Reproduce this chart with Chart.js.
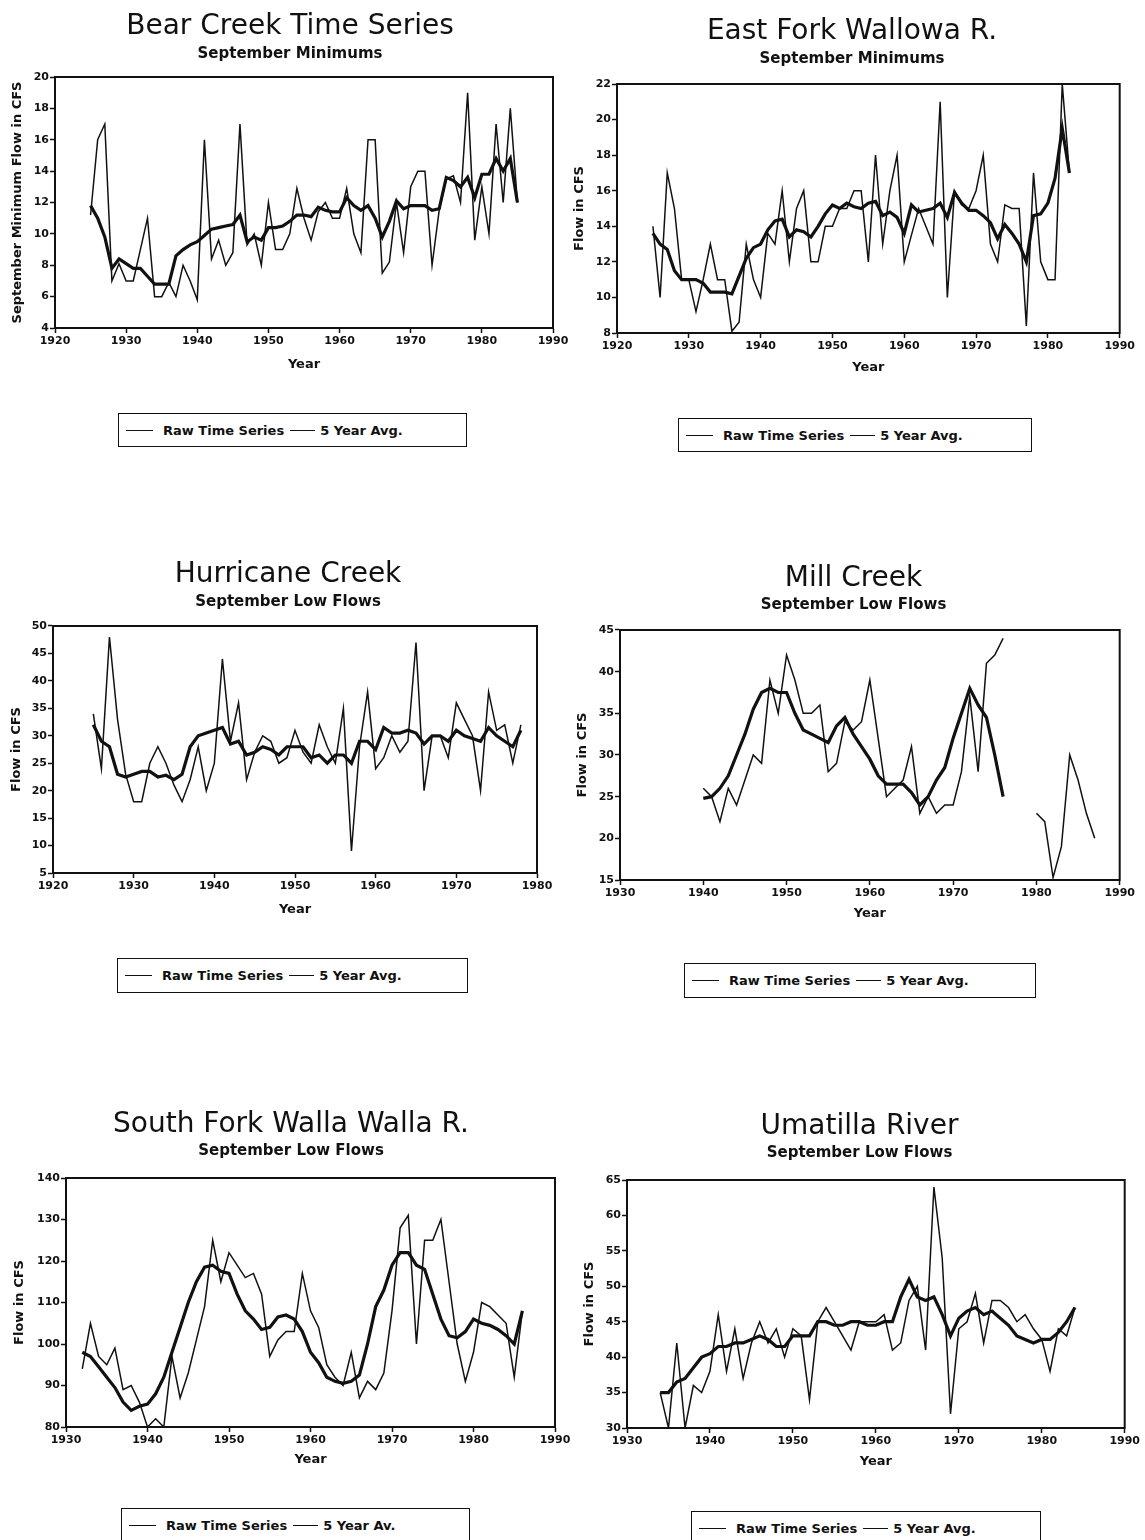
<!DOCTYPE html>
<html>
<head>
<meta charset="utf-8">
<title>September low flow time series</title>
<script src="https://cdn.jsdelivr.net/npm/chart.js@4.4.1/dist/chart.umd.min.js"></script>
<style>
  html, body { margin: 0; padding: 0; background: #fff; }
  #page { position: relative; width: 1145px; height: 1540px; overflow: hidden; background: #fff; }
  #page canvas { position: absolute; }
  .legend {
    position: absolute; box-sizing: border-box; border: 1.6px solid #111;
    display: flex; align-items: center; padding-left: 7px;
    font: bold 13px "DejaVu Sans", sans-serif; color: #111; white-space: nowrap;
  }
  .legend .ln { display: inline-block; height: 0; border-top: 1.8px solid #111; }
</style>
</head>
<body>
<div id="page"></div>
<script>
// years shared by all the stations
const years = [1925, 1926, 1927, 1928, 1929, 1930, 1931, 1932, 1933, 1934,
  1935, 1936, 1937, 1938, 1939, 1940, 1941, 1942, 1943, 1944,
  1945, 1946, 1947, 1948, 1949, 1950, 1951, 1952, 1953, 1954,
  1955, 1956, 1957, 1958, 1959, 1960, 1961, 1962, 1963, 1964,
  1965, 1966, 1967, 1968, 1969, 1970, 1971, 1972, 1973, 1974,
  1975, 1976, 1977, 1978, 1979, 1980, 1981, 1982, 1983, 1984,
  1985, 1986, 1987]

// Bear Creek 1925-1985
const bearYears = years.slice(0, 61)
const bearRaw = [11.2, 16, 17, 7, 8.1, 7, 7, 9, 11, 6,
  6, 6.9, 6, 8, 7, 5.8, 16, 8.4, 9.6, 8,
  8.8, 17, 9.3, 10, 8, 12, 9, 9, 10, 12.9,
  11, 9.6, 11.4, 12, 11, 11, 12.9, 10, 8.8, 16,
  16, 7.5, 8.2, 12, 8.8, 13, 14, 14, 8, 11.5,
  13.5, 13.7, 12, 19, 9.6, 13, 10, 17, 12, 18,
  12]
const bearAvg = [11.8, 11, 9.8, 7.8, 8.4, 8.1, 7.8, 7.8, 7.3, 6.8,
  6.8, 6.8, 8.6, 9.0, 9.3, 9.5, 9.9, 10.3, 10.4, 10.5,
  10.6, 11.2, 9.5, 9.8, 9.6, 10.4, 10.4, 10.5, 10.8, 11.2,
  11.2, 11.1, 11.7, 11.5, 11.4, 11.4, 12.3, 11.8, 11.5, 11.8,
  11.0, 9.8, 10.8, 12.1, 11.6, 11.8, 11.8, 11.8, 11.5, 11.6,
  13.6, 13.4, 13.0, 13.6, 12.3, 13.8, 13.8, 14.8, 14.0, 14.8,
  12.0]

// East Fork Wallowa 1925-1983
const eastYears = years.slice(0, 59)
const eastRaw = [14, 10, 17, 15, 11, 11, 9.2, 11, 13, 11,
  11, 8.1, 8.6, 13, 11, 10, 13.6, 13, 16, 12,
  15, 16, 12, 12, 14, 14, 15, 15, 16, 16,
  12, 18, 13, 16, 18, 12, 13.5, 15, 14, 13,
  21, 10, 16, 15.2, 15, 16, 18, 13, 12, 15.2,
  15, 15, 8.4, 17, 12, 11, 11, 22, 17]
const eastAvg = [13.6, 13, 12.7, 11.5, 11, 11, 11, 10.8, 10.3, 10.3,
  10.3, 10.2, 11.2, 12.2, 12.8, 13, 13.8, 14.3, 14.4, 13.4,
  13.8, 13.7, 13.4, 14.0, 14.7, 15.2, 15.0, 15.3, 15.1, 15.0,
  15.3, 15.4, 14.6, 14.8, 14.5, 13.6, 15.2, 14.8, 14.9, 15.0,
  15.3, 14.5, 15.9, 15.3, 14.9, 14.9, 14.6, 14.2, 13.3, 14.1,
  13.6, 13.0, 12.0, 14.6, 14.7, 15.3, 16.7, 19.5, 17]

// Hurricane Creek 1925-1978
const hurrYears = years.slice(0, 54)
const hurrRaw = [34, 24, 48, 33, 23, 18, 18, 25, 28, 25,
  21, 18, 22, 28, 20, 25, 44, 29, 36, 22,
  27, 30, 29, 25, 26, 31, 27, 25, 32, 28,
  25, 35, 9, 28, 38, 24, 26, 30, 27, 29,
  47, 20, 30, 30, 26, 36, 33, 30, 20, 38,
  31, 32, 25, 32]
const hurrAvg = [32, 29, 28, 23, 22.5, 23, 23.5, 23.5, 22.5, 22.8,
  22, 23, 28, 30, 30.5, 31, 31.5, 28.5, 29, 26.5,
  27, 28, 27.5, 26.5, 28, 28, 28, 26, 26.5, 25,
  26.5, 26.5, 25, 29, 29, 27.5, 31.5, 30.5, 30.5, 31,
  30.5, 28.5, 30, 30, 29, 31, 30, 29.5, 29, 31.5,
  30, 29, 28, 31]

// Mill Creek 1940-1987 (no record 1977-1979), average 1940-1976
const millYears = years.slice(15, 63)
const millRaw = [26, 25, 22, 26, 24, 27, 30, 29, 39, 35,
  42, 39, 35, 35, 36, 28, 29, 34, 33, 34,
  39, 32, 25, 26, 27, 31, 23, 25, 23, 24,
  24, 28, 37, 28, 41, 42, 44, null, null, null,
  23, 22, 15.3, 19, 30, 27, 23, 20]
const millAvgYears = years.slice(15, 52)
const millAvg = [24.8, 25, 26, 27.5, 30, 32.5, 35.5, 37.5, 38, 37.5,
  37.5, 35, 33, 32.5, 32, 31.5, 33.5, 34.5, 32.5, 31,
  29.5, 27.5, 26.5, 26.5, 26.5, 25.5, 24, 25, 27, 28.5,
  32, 35, 38, 36, 34.5, 30, 25]

// South Fork Walla Walla 1932-1986
const sfYears = years.slice(7, 62)
const sfRaw = [94, 105, 97, 95, 99, 89, 90, 86, 80, 82,
  80, 97, 87, 93, 101, 109, 125, 115, 122, 119,
  116, 117, 112, 97, 101, 103, 103, 117, 108, 104,
  95, 92, 90, 98, 87, 91, 89, 93, 108, 128,
  131, 100, 125, 125, 130, 115, 100, 91, 98, 110,
  109, 107, 105, 92, 108]
const sfAvg = [98, 97, 94.5, 92, 89.5, 86, 84, 85, 85.5, 88,
  92, 98, 104, 110, 115, 118.5, 119, 117.5, 117, 112,
  108, 106, 103.5, 104, 106.5, 107, 106, 103, 98, 95.5,
  92, 91, 90.5, 91, 92.5, 100, 109, 113, 119, 122,
  122, 119, 118, 112, 106, 102, 101.5, 103, 106, 105,
  104.5, 103.5, 102, 100, 108]

// Umatilla River 1934-1984
const umaYears = years.slice(9, 60)
const umaRaw = [35, 30, 42, 30, 36, 35, 38, 46, 38, 44,
  37, 42, 45, 42, 44, 40, 44, 43, 34, 45,
  47, 45, 43, 41, 45, 45, 45, 46, 41, 42,
  48, 50, 41, 64, 54, 32, 44, 45, 49, 42,
  48, 48, 47, 45, 46, 44, 42.5, 38, 44, 43,
  47]
const umaAvg = [35, 35, 36.5, 37, 38.5, 40, 40.5, 41.5, 41.5, 42,
  42, 42.5, 43, 42.5, 41.5, 41.5, 43, 43, 43, 45,
  45, 44.5, 44.5, 45, 45, 44.5, 44.5, 45, 45, 48.5,
  51, 48.5, 48, 48.5, 46, 43, 45.5, 46.5, 47, 46,
  46.5, 45.5, 44.5, 43, 42.5, 42, 42.5, 42.5, 43.5, 45,
  47]

// tick labels
const xTicks20to90 = [1920, 1930, 1940, 1950, 1960, 1970, 1980, 1990]
const xTicks20to80 = [1920, 1930, 1940, 1950, 1960, 1970, 1980]
const xTicks30to90 = [1930, 1940, 1950, 1960, 1970, 1980, 1990]
const bearYTicks = [4, 6, 8, 10, 12, 14, 16, 18, 20]
const eastYTicks = [8, 10, 12, 14, 16, 18, 20, 22]
const hurrYTicks = [5, 10, 15, 20, 25, 30, 35, 40, 45, 50]
const millYTicks = [15, 20, 25, 30, 35, 40, 45]
const sfYTicks = [80, 90, 100, 110, 120, 130, 140]
const umaYTicks = [30, 35, 40, 45, 50, 55, 60, 65]

const INK = "#111"
const FONT = "'DejaVu Sans', sans-serif"

// plot frame on all four sides
const framePlugin = {
  id: "frame",
  afterDraw(chart) {
    const a = chart.chartArea
    const ctx = chart.ctx
    ctx.save()
    ctx.strokeStyle = INK
    ctx.lineWidth = 2
    ctx.strokeRect(a.left, a.top, a.right - a.left, a.bottom - a.top)
    ctx.restore()
  }
}

const pairs = (xs, ys) => xs.map((x, i) => ({ x: x, y: ys[i] }))

const panels = [
  { title: "Bear Creek Time Series", sub: "September Minimums", yTitle: "September Minimum Flow in CFS",
    rawX: bearYears, raw: bearRaw, avgX: bearYears, avg: bearAvg, avgLabel: "5 Year Avg.",
    xTicks: xTicks20to90, yTicks: bearYTicks,
    pos: { L: 55, R: 553, T: 77, B: 328, titleX: 290, titleY: 25, subY: 53, yearY: 363, yW: 50, yDX: 37, box: [118, 413, 467, 447] } },
  { title: "East Fork Wallowa R.", sub: "September Minimums", yTitle: "Flow in CFS",
    rawX: eastYears, raw: eastRaw, avgX: eastYears, avg: eastAvg, avgLabel: "5 Year Avg.",
    xTicks: xTicks20to90, yTicks: eastYTicks,
    pos: { L: 617, R: 1122, T: 84, B: 333, titleX: 851, titleY: 30, subY: 58, yearY: 366, yW: 50, yDX: 37, box: [678, 418, 1032, 452] } },
  { title: "Hurricane Creek", sub: "September Low Flows", yTitle: "Flow in CFS",
    rawX: hurrYears, raw: hurrRaw, avgX: hurrYears, avg: hurrAvg, avgLabel: "5 Year Avg.",
    xTicks: xTicks20to80, yTicks: hurrYTicks,
    pos: { L: 53, R: 537, T: 626, B: 873, titleX: 288, titleY: 573, subY: 601, yearY: 908, yW: 50, yDX: 36, box: [117, 958, 468, 993] } },
  { title: "Mill Creek", sub: "September Low Flows", yTitle: "Flow in CFS",
    rawX: millYears, raw: millRaw, avgX: millAvgYears, avg: millAvg, avgLabel: "5 Year Avg.",
    xTicks: xTicks30to90, yTicks: millYTicks,
    pos: { L: 620, R: 1122, T: 630, B: 880, titleX: 853, titleY: 577, subY: 604, yearY: 912, yW: 50, yDX: 37, box: [684, 963, 1036, 998] } },
  { title: "South Fork Walla Walla R.", sub: "September Low Flows", yTitle: "Flow in CFS",
    rawX: sfYears, raw: sfRaw, avgX: sfYears, avg: sfAvg, avgLabel: "5 Year Av.",
    xTicks: xTicks30to90, yTicks: sfYTicks,
    pos: { L: 66, R: 555, T: 1178, B: 1427, titleX: 291, titleY: 1123, subY: 1150, yearY: 1458, yW: 60, yDX: 46, box: [121, 1508, 470, 1542] } },
  { title: "Umatilla River", sub: "September Low Flows", yTitle: "Flow in CFS",
    rawX: umaYears, raw: umaRaw, avgX: umaYears, avg: umaAvg, avgLabel: "5 Year Avg.",
    xTicks: xTicks30to90, yTicks: umaYTicks,
    pos: { L: 627, R: 1127, T: 1180, B: 1428, titleX: 857, titleY: 1125, subY: 1152, yearY: 1460, yW: 50, yDX: 37, box: [691, 1511, 1041, 1545] } }
]

const page = document.querySelector("#page")

panels.forEach((p) => {
  const g = p.pos
  const left = g.L - g.yW
  const top = g.titleY - 24
  // empty right-hand gutter so the title centres where the original does
  const padR = Math.max(15, Math.round(2 * g.titleX - left - g.R))
  const width = g.R + padR - left
  const height = g.yearY + 14 - top
  const titleBottom = top + 9.2 + 33.6

  const canvas = document.createElement("canvas")
  canvas.width = width
  canvas.height = height
  canvas.style.left = left + "px"
  canvas.style.top = top + "px"
  canvas.style.width = width + "px"
  canvas.style.height = height + "px"
  page.appendChild(canvas)

  new Chart(canvas.getContext("2d"), {
    type: "line",
    data: {
      datasets: [
        {
          label: "Raw Time Series",
          data: pairs(p.rawX, p.raw),
          borderColor: INK,
          borderWidth: 1.5,
          pointRadius: 0,
          tension: 0,
          spanGaps: false
        },
        {
          label: p.avgLabel,
          data: pairs(p.avgX, p.avg),
          borderColor: INK,
          borderWidth: 3.2,
          pointRadius: 0,
          tension: 0
        }
      ]
    },
    options: {
      responsive: false,
      animation: false,
      devicePixelRatio: 1,
      layout: { padding: 0 },
      plugins: {
        legend: { display: false },
        tooltip: { enabled: false },
        title: {
          display: true,
          text: p.title,
          color: INK,
          font: { family: FONT, size: 28, weight: "normal", lineHeight: 1.2 },
          padding: { top: 9.2, bottom: 0 }
        },
        subtitle: {
          display: true,
          text: p.sub,
          color: INK,
          font: { family: FONT, size: 15, weight: "bold", lineHeight: 1.2 },
          padding: { top: g.subY + 1.5 - 9 - titleBottom, bottom: g.T - (g.subY + 1.5 + 9) }
        }
      },
      scales: {
        x: {
          type: "linear",
          min: p.xTicks[0],
          max: p.xTicks[p.xTicks.length - 1],
          afterBuildTicks: (s) => { s.ticks = p.xTicks.map((v) => ({ value: v })) },
          afterFit: (s) => { s.height = g.yearY + 14 - g.B },
          ticks: {
            color: INK,
            autoSkip: false,
            maxRotation: 0,
            padding: 2,
            font: { family: FONT, size: 11, weight: "bold" },
            callback: (v) => String(v)
          },
          grid: { drawOnChartArea: false, drawTicks: true, tickLength: 5, tickWidth: 1.5, color: INK },
          border: { display: true, color: INK, width: 2 },
          title: {
            display: true,
            text: "Year",
            color: INK,
            font: { family: FONT, size: 13, weight: "bold", lineHeight: 1.2 },
            padding: { top: 0, bottom: 4.5 }
          }
        },
        y: {
          min: p.yTicks[0],
          max: p.yTicks[p.yTicks.length - 1],
          afterBuildTicks: (s) => { s.ticks = p.yTicks.map((v) => ({ value: v })) },
          afterFit: (s) => { s.width = g.yW },
          ticks: {
            color: INK,
            padding: 1,
            font: { family: FONT, size: 11, weight: "bold" },
            callback: (v) => String(v)
          },
          grid: { drawOnChartArea: false, drawTicks: true, tickLength: 5, tickWidth: 1.5, color: INK },
          border: { display: true, color: INK, width: 2 },
          title: {
            display: true,
            text: p.yTitle,
            color: INK,
            font: { family: FONT, size: 13, weight: "bold", lineHeight: 1.2 },
            padding: { top: g.yW - g.yDX - 7.8, bottom: 0 }
          }
        },
        gutter: {
          axis: "y",
          position: "right",
          afterFit: (s) => { s.width = padR },
          ticks: { display: false },
          grid: { display: false },
          border: { display: false }
        }
      }
    },
    plugins: [framePlugin]
  })

  // legend box under each panel
  const b = g.box
  const box = document.createElement("div")
  box.className = "legend"
  box.style.left = b[0] + "px"
  box.style.top = b[1] + "px"
  box.style.width = (b[2] - b[0]) + "px"
  box.style.height = (b[3] - b[1]) + "px"
  box.innerHTML =
    '<span class="ln" style="width:27px;margin-right:10px"></span>' +
    '<span>Raw Time Series</span>' +
    '<span class="ln" style="width:25px;margin:0 5px 0 6px"></span>' +
    '<span>' + p.avgLabel + '</span>'
  page.appendChild(box)
})
</script>
</body>
</html>
